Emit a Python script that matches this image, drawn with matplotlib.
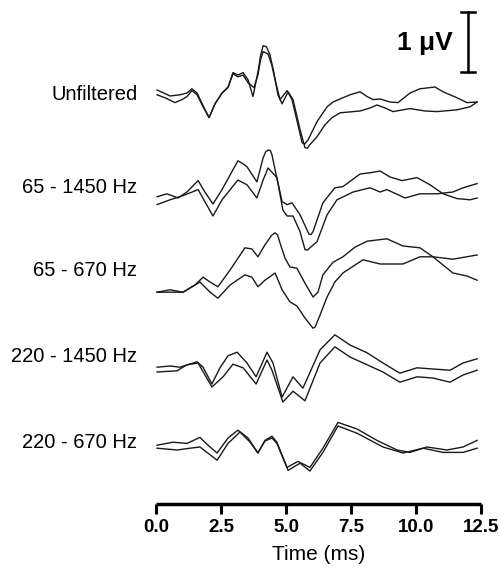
import matplotlib
matplotlib.use("Agg")
import matplotlib.pyplot as plt

plt.rcParams['font.family'] = ['Liberation Sans', 'DejaVu Sans']

# filter settings, top to bottom
labels = ["Unfiltered", "65 - 1450 Hz", "65 - 670 Hz", "220 - 1450 Hz", "220 - 670 Hz"]
# vertical position of each row (uV)
offsets = [6.82, 5.27, 3.90, 2.45, 1.03]

# --- Unfiltered ---
t1a = [0.04, 0.35, 0.54, 0.92, 1.19, 1.38, 1.58, 1.81, 2.04, 2.27, 2.54, 2.77, 2.96, 3.15, 3.35,
       3.54, 3.77, 3.92, 4.02, 4.12, 4.31, 4.45, 4.58, 4.77, 5.04, 5.23, 5.46, 5.62, 5.72, 5.85,
       6.19, 6.58, 6.81, 7.46, 7.85, 8.12, 8.35, 8.62, 9.00, 9.31, 9.77, 10.15, 10.73, 11.04, 11.58,
       11.96, 12.35]
v1a = [0.08, 0.02, -0.02, 0.00, 0.03, 0.10, 0.03, -0.18, -0.38, -0.15, 0.03, 0.12, 0.35, 0.30, 0.33,
       0.20, 0.12, 0.33, 0.58, 0.72, 0.68, 0.50, 0.25, -0.08, 0.07, -0.08, -0.50, -0.80, -0.82, -0.75,
       -0.45, -0.20, -0.12, 0.00, 0.05, -0.03, -0.08, -0.07, -0.12, -0.13, 0.03, 0.10, 0.13, 0.05, -0.05,
       -0.13, -0.12]
t1b = [0.04, 0.35, 0.73, 1.00, 1.19, 1.38, 1.58, 1.81, 2.04, 2.27, 2.54, 2.77, 2.96, 3.15, 3.35,
       3.54, 3.73, 3.92, 4.02, 4.12, 4.25, 4.38, 4.52, 4.69, 4.85, 5.08, 5.27, 5.54, 5.73, 5.82,
       5.92, 6.19, 6.50, 6.77, 7.08, 7.85, 8.23, 8.50, 8.81, 9.12, 9.77, 10.35, 10.81, 11.58, 12.08,
       12.35]
v1b = [0.00, -0.05, -0.13, -0.08, -0.03, 0.07, 0.00, -0.20, -0.38, -0.15, 0.03, 0.13, 0.37, 0.33, 0.37,
       0.25, -0.03, 0.38, 0.65, 0.82, 0.80, 0.67, 0.40, 0.00, -0.15, 0.05, -0.08, -0.58, -0.88, -0.89,
       -0.83, -0.70, -0.50, -0.38, -0.30, -0.27, -0.22, -0.17, -0.22, -0.28, -0.23, -0.27, -0.28, -0.25, -0.20,
       -0.12]

# --- 65 - 1450 Hz ---
t2a = [0.04, 0.42, 0.85, 1.19, 1.62, 1.88, 2.19, 2.54, 3.15, 3.35, 3.50, 3.88, 4.12, 4.22, 4.31,
       4.40, 4.46, 4.62, 4.85, 5.04, 5.23, 5.54, 5.88, 5.96, 6.04, 6.42, 6.88, 7.19, 7.85, 8.23,
       8.62, 9.00, 9.46, 10.04, 10.54, 11.04, 11.58, 12.08, 12.35]
v2a = [-0.15, -0.10, -0.17, -0.07, 0.12, -0.07, -0.27, -0.03, 0.45, 0.40, 0.35, 0.10, 0.50, 0.60, 0.63,
       0.62, 0.55, 0.22, -0.23, -0.28, -0.25, -0.45, -0.77, -0.78, -0.73, -0.25, 0.00, 0.02, 0.23, 0.25,
       0.28, 0.18, 0.12, 0.17, 0.05, -0.10, -0.18, -0.20, -0.17]
t2b = [0.04, 0.54, 1.04, 1.62, 1.88, 2.19, 2.54, 3.15, 3.50, 3.88, 4.12, 4.31, 4.65, 4.88, 5.04,
       5.27, 5.54, 5.73, 5.82, 5.92, 6.19, 6.58, 6.96, 7.58, 8.23, 8.62, 8.88, 9.58, 10.15, 10.81,
       11.42, 11.81, 12.35]
v2b = [-0.28, -0.20, -0.13, -0.03, -0.23, -0.47, -0.20, 0.13, 0.05, -0.17, 0.13, 0.33, 0.17, -0.37, -0.47,
       -0.47, -0.73, -1.03, -1.04, -1.00, -0.90, -0.45, -0.20, -0.07, 0.00, -0.07, -0.03, -0.17, -0.10, -0.10,
       -0.07, 0.00, 0.07]

# --- 65 - 670 Hz ---
t3a = [0.04, 0.54, 1.04, 1.50, 1.81, 2.08, 2.38, 2.85, 3.42, 3.69, 3.92, 4.19, 4.45, 4.58, 4.68,
       4.77, 4.96, 5.15, 5.42, 5.73, 6.04, 6.23, 6.42, 6.81, 7.19, 7.65, 8.12, 8.88, 9.50, 10.15,
       10.65, 11.42, 11.96, 12.35]
v3a = [-0.37, -0.33, -0.37, -0.25, -0.12, -0.20, -0.28, 0.00, 0.37, 0.35, 0.22, 0.42, 0.58, 0.62, 0.58,
       0.45, 0.20, 0.05, 0.03, -0.22, -0.45, -0.37, -0.08, 0.13, 0.22, 0.38, 0.48, 0.52, 0.40, 0.37,
       0.22, -0.05, -0.10, -0.17]
t3b = [0.04, 1.04, 1.69, 2.08, 2.38, 2.85, 3.42, 3.69, 3.92, 4.19, 4.58, 4.85, 5.15, 5.42, 5.73,
       6.04, 6.12, 6.31, 6.58, 6.88, 7.19, 7.96, 8.62, 9.50, 10.15, 10.65, 11.42, 12.08, 12.35]
v3b = [-0.37, -0.37, -0.20, -0.37, -0.47, -0.25, -0.08, -0.12, -0.28, -0.17, -0.05, -0.33, -0.53, -0.60, -0.80,
       -0.97, -0.95, -0.75, -0.45, -0.20, -0.05, 0.17, 0.10, 0.10, 0.22, 0.22, 0.18, 0.23, 0.25]

# --- 220 - 1450 Hz ---
t4a = [0.04, 0.54, 0.92, 1.58, 1.81, 2.15, 2.46, 2.77, 3.12, 3.50, 3.85, 4.27, 4.50, 4.85, 5.27,
       5.65, 6.31, 6.88, 7.46, 8.12, 8.73, 9.38, 10.04, 10.65, 11.31, 11.81, 12.35]
v4a = [-0.17, -0.15, -0.17, -0.08, -0.17, -0.45, -0.18, 0.02, 0.08, -0.10, -0.33, 0.08, -0.10, -0.67, -0.33,
       -0.52, 0.12, 0.37, 0.20, 0.07, -0.10, -0.27, -0.18, -0.20, -0.22, -0.10, -0.03]
t4b = [0.04, 0.81, 1.19, 1.62, 2.15, 2.58, 2.96, 3.35, 3.85, 4.27, 4.46, 4.88, 5.27, 5.73, 6.31,
       6.88, 7.46, 8.12, 8.73, 9.38, 10.04, 10.65, 11.31, 11.81, 12.35]
v4b = [-0.25, -0.23, -0.13, -0.10, -0.50, -0.33, -0.12, -0.18, -0.45, -0.05, -0.22, -0.75, -0.57, -0.73, -0.10,
       0.17, 0.00, -0.13, -0.25, -0.42, -0.33, -0.35, -0.42, -0.30, -0.22]

# --- 220 - 670 Hz ---
t5a = [0.04, 0.65, 1.19, 1.69, 2.00, 2.35, 2.77, 3.15, 3.54, 3.92, 4.19, 4.46, 4.65, 5.04, 5.46,
       5.92, 6.42, 7.00, 7.73, 8.50, 9.27, 9.77, 10.42, 11.19, 11.81, 12.35]
v5a = [-0.05, 0.00, -0.02, 0.08, -0.05, -0.18, 0.07, 0.20, 0.07, -0.18, 0.03, 0.10, 0.00, -0.42, -0.32,
       -0.42, -0.10, 0.33, 0.22, 0.03, -0.13, -0.17, -0.08, -0.13, -0.08, 0.03]
t5b = [0.04, 0.81, 1.31, 1.69, 2.35, 2.77, 3.23, 3.62, 3.92, 4.19, 4.46, 4.65, 5.08, 5.54, 5.92,
       6.42, 7.00, 7.73, 8.73, 9.50, 10.27, 11.04, 11.81, 12.35]
v5b = [-0.10, -0.13, -0.10, -0.08, -0.30, -0.02, 0.17, 0.00, -0.18, 0.02, 0.07, -0.02, -0.47, -0.35, -0.48,
       -0.17, 0.27, 0.15, -0.08, -0.18, -0.10, -0.17, -0.17, -0.10]

traces = [((t1a, v1a), (t1b, v1b)),
          ((t2a, v2a), (t2b, v2b)),
          ((t3a, v3a), (t3b, v3b)),
          ((t4a, v4a), (t4b, v4b)),
          ((t5a, v5a), (t5b, v5b))]

xticks = [0.0, 2.5, 5.0, 7.5, 10.0, 12.5]

fig = plt.figure(figsize=(4.99, 5.72), dpi=100)
ax = fig.add_axes([156 / 499, 68 / 572, 325 / 499, 504 / 572])

for lab, off, pair in zip(labels, offsets, traces):
    for t, v in pair:
        ax.plot(t, [off + a for a in v], color="#1a1a1a", lw=1.0,
                solid_joinstyle="round", clip_on=False)
    ax.text(-0.72, off, lab, ha="right", va="center", fontsize=14.5)

# 1 uV scale bar
ax.plot([12.0, 12.0], [7.2, 8.2], color="black", lw=1.8, clip_on=False)
ax.plot([11.72, 12.28], [8.2, 8.2], color="black", lw=1.8, clip_on=False)
ax.plot([11.72, 12.28], [7.2, 7.2], color="black", lw=1.8, clip_on=False)
ax.text(11.42, 7.68, "1 \u03bcV", ha="right", va="center", fontsize=19, fontweight="bold")

ax.set_xlim(0, 12.5)
ax.set_ylim(0, 8.4)
ax.set_xticks(xticks)
ax.set_xticklabels([f"{x:.1f}" for x in xticks], fontsize=13.5, fontweight="bold")
ax.tick_params(axis="x", direction="out", length=7, width=2.2, pad=4)
ax.set_yticks([])
for s in ["left", "top", "right"]:
    ax.spines[s].set_visible(False)
ax.spines["bottom"].set_linewidth(2.5)
ax.spines["bottom"].set_capstyle("butt")
ax.set_xlabel("Time (ms)", fontsize=15, labelpad=6)

fig.savefig("out.png", dpi=100)
